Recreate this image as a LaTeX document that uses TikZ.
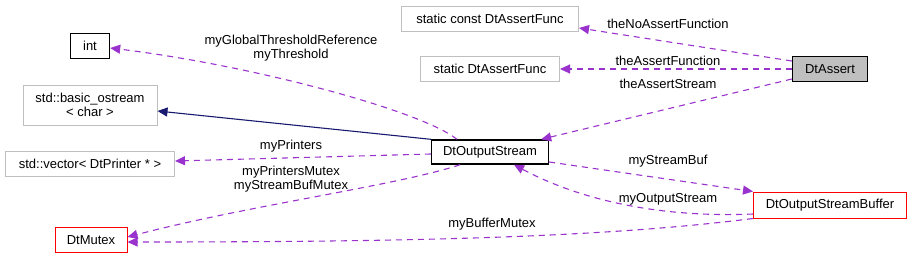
\documentclass[tikz,border=0pt]{standalone}
\usepackage{fontspec}
\setmainfont{Liberation Sans}
\usetikzlibrary{arrows.meta}
\definecolor{depcol}{HTML}{9A32CD}
\definecolor{inhcol}{HTML}{191970}
\definecolor{boxgray}{HTML}{BFBFBF}
\tikzset{
  cls/.style={draw=#1, line width=1pt, inner sep=0pt, minimum height=25pt, align=center, font=\fontsize{13}{14}\selectfont},
  cls/.default=boxgray,
  dark/.style={line width=1.4pt},
  dep/.style={depcol, line width=1.1pt, dash pattern=on 6pt off 5pt, -{Triangle[length=10pt,width=9pt]}},
  inh/.style={inhcol, line width=1.1pt, -{Triangle[length=10pt,width=9pt]}},
  lbl/.style={align=center, inner sep=0pt, font=\fontsize{13}{14}\selectfont},
}
\begin{document}
\begin{tikzpicture}[x=1pt,y=-1pt]
\useasboundingbox (0,0) rectangle (912,260);
\node[cls, minimum width=177pt] (nofunc) at (490,19) {static const DtAssertFunc};
\node[cls, minimum width=139pt] (func) at (490,69) {static DtAssertFunc};
\node[cls=black, dark, fill=boxgray, minimum width=75pt] (assert) at (830,69) {DtAssert};
\node[cls=black, dark, minimum width=39pt] (int) at (90,46) {int};
\node[cls, minimum width=134pt, minimum height=40pt] (basic) at (90,105) {std::basic\_ostream\\< char >};
\node[cls, minimum width=169pt] (vector) at (90,164) {std::vector< DtPrinter * >};
\node[cls=red, minimum width=72pt] (mutex) at (91,240) {DtMutex};
\node[cls=black, dark, minimum width=117pt, minimum height=24pt] (ostream) at (490,152) {DtOutputStream};
\node[cls=red, minimum width=153pt, minimum height=26pt] (buffer) at (830,205) {DtOutputStreamBuffer};
\draw[dep] ([yshift=8pt]assert.west) -- ([yshift=-9pt]nofunc.east);
\draw[dep] (assert.west) -- (func.east);
\draw[dep] ([yshift=-10pt]assert.west) -- ([xshift=-8pt]ostream.north east);
\draw[dep] ([xshift=-33pt]ostream.north) .. controls (420,110) and (250,65) .. ([yshift=-2pt]int.east);
\draw[inh] (ostream.north west) -- ([yshift=-6pt]basic.east);
\draw[dep] ([yshift=-2pt]ostream.west) -- ([yshift=3pt]vector.east);
\draw[dep] ([xshift=-30pt]ostream.south) .. controls (400,185) and (250,205) .. ([yshift=3pt]mutex.east);
\draw[dep] ([yshift=-10pt]ostream.east) -- (buffer.north west);
\draw[dep] ([yshift=-9pt]buffer.west) .. controls (660,218) and (580,200) .. ([xshift=24pt]ostream.south);
\draw[dep] (buffer.south west) .. controls (600,238) and (400,242) .. ([yshift=-2pt]mutex.east);
\node[lbl] (lnofunc) at (668,24) {theNoAssertFunction};
\node[lbl] (lfunc) at (668,61) {theAssertFunction};
\node[lbl] (lstream) at (668,84) {theAssertStream};
\node[lbl] (lthresh) at (291,48) {myGlobalThresholdReference\\myThreshold};
\node[lbl] (lprinters) at (291,146) {myPrinters};
\node[lbl] (lmutexes) at (291,179) {myPrintersMutex\\myStreamBufMutex};
\node[lbl] (lbuf) at (668,161) {myStreamBuf};
\node[lbl] (lout) at (668,199) {myOutputStream};
\node[lbl] (lbufmutex) at (492,224) {myBufferMutex};
\end{tikzpicture}
\end{document}
